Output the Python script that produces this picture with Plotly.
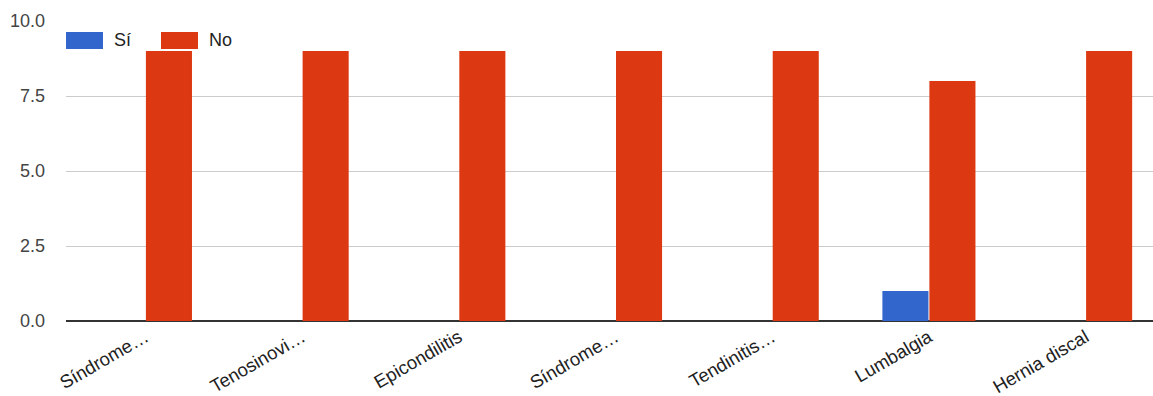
import plotly.graph_objects as go

# Data
categories = ["Síndrome…", "Tenosinovi…", "Epicondilitis", "Síndrome…",
              "Tendinitis…", "Lumbalgia", "Hernia discal"]
si_values = [0, 0, 0, 0, 0, 1, 0]
no_values = [9, 9, 9, 9, 9, 8, 9]
y_ticks = [0, 2.5, 5, 7.5, 10]
y_tick_labels = ["0.0", "2.5", "5.0", "7.5", "10.0"]

BLUE = "#3366CC"
RED = "#DC3912"
FONT = "Arial, Liberation Sans, sans-serif"

positions = list(range(len(categories)))

fig = go.Figure()
fig.add_trace(go.Bar(x=positions, y=si_values, name="Sí",
                     marker=dict(color=BLUE, line=dict(width=0)),
                     showlegend=False))
fig.add_trace(go.Bar(x=positions, y=no_values, name="No",
                     marker=dict(color=RED, line=dict(width=0)),
                     showlegend=False))

# Legend drawn as wide swatches with labels along the top of the plot
legend_items = [("Sí", BLUE, 66, 103, 112), ("No", RED, 161, 198, 207)]
for label, color, x0, x1, tx in legend_items:
    fig.add_shape(type="rect", xref="paper", yref="paper",
                  x0=(x0 - 66) / 1087, x1=(x1 - 66) / 1087,
                  y0=(321 - 49) / 300, y1=(321 - 32) / 300,
                  fillcolor=color, line=dict(width=0), layer="above")
    fig.add_annotation(text=label, xref="paper", yref="paper",
                       x=(tx - 66) / 1087, y=(321 - 40.5) / 300,
                       xanchor="left", yanchor="middle", showarrow=False,
                       font=dict(family=FONT, size=18, color="#222222"))

fig.update_layout(
    width=1153, height=396,
    margin=dict(l=66, r=0, t=21, b=75),
    plot_bgcolor="white", paper_bgcolor="white",
    barmode="group", bargap=0.4, bargroupgap=0.02,
    font=dict(family=FONT, size=18, color="#444444"),
    showlegend=False,
)
fig.update_xaxes(
    range=[-0.507, 6.43], automargin=False,
    tickmode="array", tickvals=positions, ticktext=categories,
    tickangle=-30, ticks="", showgrid=False, zeroline=False,
    showline=False, ticklabelstandoff=1,
    tickfont=dict(family=FONT, size=18.5, color="#222222"),
)
fig.update_yaxes(
    range=[0, 10], automargin=False,
    tickmode="array", tickvals=y_ticks, ticktext=y_tick_labels,
    showgrid=True, gridcolor="#CCCCCC", gridwidth=1,
    zeroline=True, zerolinecolor="#333333", zerolinewidth=2,
    ticks="", ticklabelstandoff=20,
    tickfont=dict(family=FONT, size=18, color="#444444"),
)

fig.write_html("out.html")
